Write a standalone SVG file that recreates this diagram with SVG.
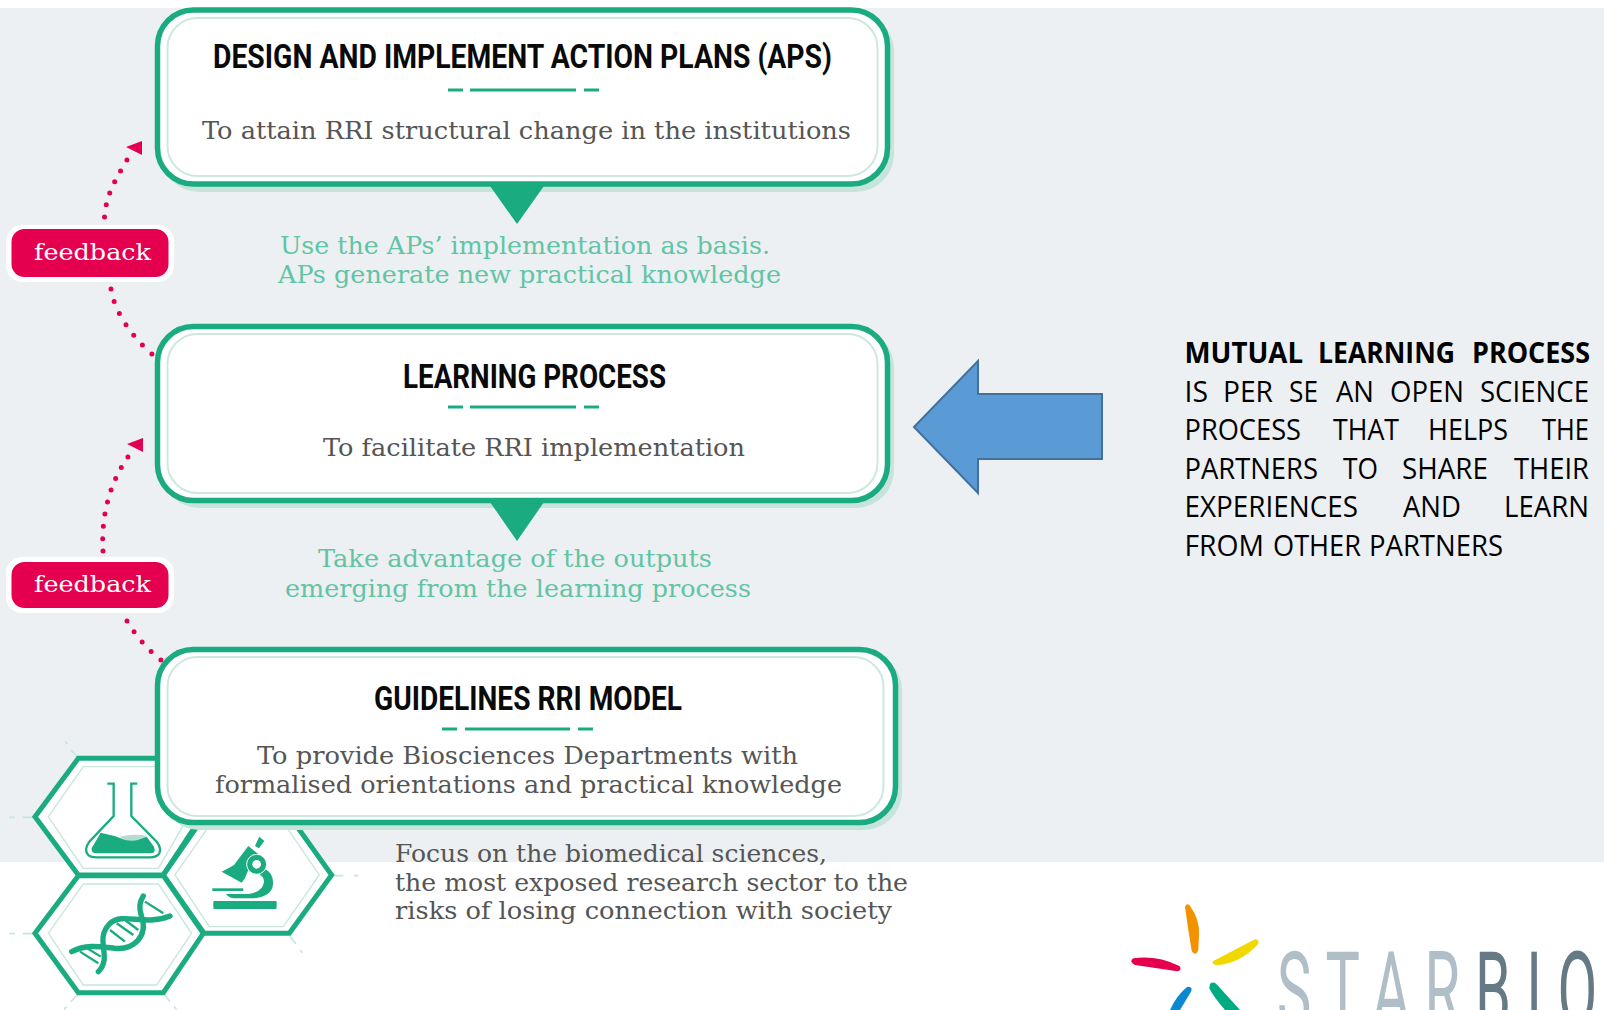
<svg xmlns="http://www.w3.org/2000/svg" width="1604" height="1010" viewBox="0 0 1604 1010">
<style>
.box{fill:#fff;stroke:#1aab80;stroke-width:5.5}
.shadow{fill:#c6e4da}
.inner{fill:none;stroke:#cfe8df;stroke-width:2}
.dash{stroke:#1aab80;stroke-width:3;fill:none}
.tip{fill:#1aab80}
.h{font-family:Roboto,"Liberation Sans",sans-serif;font-weight:700;font-size:34px;fill:#0a0a0a}
.s{font-family:"DejaVu Serif",serif;font-size:23.500px;fill:#555}
.g{font-family:"DejaVu Serif",serif;font-size:23.500px;fill:#62c4a4}
.pw{fill:#fff}
.pr{fill:#e4004f}
.f{font-family:"DejaVu Serif",serif;font-size:23px;fill:#fff}
.dot{fill:none;stroke:#e4004f;stroke-width:5;stroke-linecap:round;stroke-dasharray:0 1}
.r{font-family:"Open Sans","Liberation Sans",sans-serif;font-size:29px;fill:#000}
.rb{font-weight:700}
.hex{fill:#fff;stroke:#1aab80;stroke-width:15}
.hin{fill:none;stroke:#c8e6da;stroke-width:4}
.tick{fill:none;stroke:#c8e6da;stroke-width:5}
.ic{fill:#1aab80}
.il{fill:none;stroke:#1aab80}
</style>
<defs>
<marker id="ah" markerUnits="userSpaceOnUse" viewBox="0 0 16 20" refX="1" refY="19" markerWidth="16" markerHeight="20" orient="0"><polygon points="0,6 16,0 16,14" fill="#e4004f"/></marker>
</defs>
<rect x="0" y="8" width="1604" height="854" fill="#edf0f3"/>

<g id="hexagons" transform="translate(0,640) scale(0.3333)">
<path class="tick" d="M28,532H45M68,532H100M195,305L203,312M213,330L232,352M1003,707H1030M1062,707H1075M870,890L888,912M900,930L908,938M28,881H45M68,881H100M232,1065L212,1085M200,1100L192,1108M495,1065L510,1085M522,1100L530,1108"/>
<polygon class="hex" points="105,530 235,355 490,355 605,530 490,705 235,705"/>
<polygon class="hin" points="145,530 250,380 475,380 565,530 475,685 250,685"/>
<polygon class="hex" points="490,705 612,530 870,530 995,705 868,880 612,880"/>
<polygon class="hin" points="525,705 630,555 855,555 958,705 850,860 628,860"/>
<polygon class="hex" points="105,880 235,707 490,707 610,880 490,1058 235,1058"/>
<polygon class="hin" points="145,880 250,732 475,732 575,880 470,1035 250,1035"/>
<path class="il" stroke-width="7" d="M322,431H341V528L268,605Q250,630 265,645Q272,652 290,652H450Q470,652 478,640Q485,625 470,605L394,528V431H412"/>
<path class="ic" d="M275,625L302,578Q340,585 370,598Q405,605 440,590L462,620Q470,640 450,640H290Q272,640 275,625Z"/>
<path fill="#b6dccf" d="M358,590Q400,580 440,588Q410,608 375,600Z"/>
<rect class="ic" x="640" y="783" width="190" height="24" rx="4"/>
<rect class="ic" x="637" y="745" width="93" height="8"/>
<polygon class="ic" points="778,590 793,603 777,625 765,618"/>
<polygon class="ic" points="745,618 775,642 745,690 735,715 725,728 665,695 685,685 702,675"/>
<path class="ic" d="M790,685Q825,700 818,740Q810,770 760,775H700Q685,772 678,762H745Q790,755 792,725Q792,710 780,705Z"/>
<circle cx="770" cy="673" r="30" fill="#1aab80" stroke="#fff" stroke-width="3"/>
<circle cx="770" cy="673" r="13" fill="#fff"/>
<path class="il" stroke-width="7" d="M240,935L295,970M262,925L302,950M330,870L375,905M350,850L400,885M375,840L415,870M435,785L490,820"/>
<path class="il" stroke-width="16" stroke-linecap="round" d="M215,935C260,912 300,920 345,925C400,930 445,890 425,830C415,800 420,785 430,768"/>
<path class="il" stroke-width="16" stroke-linecap="round" d="M295,995C340,950 280,900 330,850C370,815 430,860 510,828"/>
</g>

<g id="connectors">
<path class="dot" pathLength="5.010" marker-end="url(#ah)" d="M104.500,217C106,195 115,180 127,160"/>
<path class="dot" pathLength="6.010" d="M111,289C114,310 130,335 152,354"/>
<path class="dot" pathLength="8.010" marker-end="url(#ah)" d="M103,551C101,520 108,485 128,457"/>
<path class="dot" pathLength="4.010" d="M127,621C135,635 148,650 161,660"/>
</g>

<g id="node-aps">
<rect class="shadow" x="161" y="13" width="733" height="179" rx="38"/>
<polygon class="tip" points="490,186 544,186 517,224"/>
<rect class="box" x="157.500" y="10" width="730" height="174" rx="36"/>
<rect class="inner" x="167.500" y="18" width="710" height="158" rx="30"/>
<text class="h" x="213" y="68" textLength="619" lengthAdjust="spacingAndGlyphs">DESIGN AND IMPLEMENT ACTION PLANS (APS)</text>
<path class="dash" d="M448,90H463M470,90H576M584,90H599"/>
<text class="s" x="202" y="139" textLength="649" lengthAdjust="spacingAndGlyphs">To attain RRI structural change in the institutions</text>
</g>
<g id="note-aps">
<text class="g" x="280" y="254" textLength="490" lengthAdjust="spacingAndGlyphs">Use the APs’ implementation as basis.</text>
<text class="g" x="278" y="283" textLength="503" lengthAdjust="spacingAndGlyphs">APs generate new practical knowledge</text>
</g>
<g id="feedback-1">
<rect class="pw" x="6" y="225" width="168" height="57" rx="16"/>
<rect class="pr" x="11.500" y="229" width="157" height="48" rx="13"/>
<text class="f" x="34" y="260" textLength="117" lengthAdjust="spacingAndGlyphs">feedback</text>
</g>

<g id="node-learning">
<rect class="shadow" x="161" y="329" width="733" height="179" rx="38"/>
<polygon class="tip" points="490,502 544,502 517,541"/>
<rect class="box" x="157.500" y="326.500" width="730" height="174" rx="36"/>
<rect class="inner" x="167.500" y="334" width="710" height="159" rx="30"/>
<text class="h" x="403" y="388" textLength="263" lengthAdjust="spacingAndGlyphs">LEARNING PROCESS</text>
<path class="dash" d="M448,407H463M470,407H576M584,407H599"/>
<text class="s" x="323" y="456" textLength="422" lengthAdjust="spacingAndGlyphs">To facilitate RRI implementation</text>
</g>
<g id="note-learning">
<text class="g" x="318" y="567" textLength="394" lengthAdjust="spacingAndGlyphs">Take advantage of the outputs</text>
<text class="g" x="285" y="597" textLength="466" lengthAdjust="spacingAndGlyphs">emerging from the learning process</text>
</g>
<g id="feedback-2">
<rect class="pw" x="6" y="557" width="168" height="56" rx="16"/>
<rect class="pr" x="11.500" y="562" width="157" height="46" rx="13"/>
<text class="f" x="34" y="592" textLength="117" lengthAdjust="spacingAndGlyphs">feedback</text>
</g>

<g id="node-guidelines">
<rect class="shadow" x="161" y="652" width="741" height="178" rx="38"/>
<rect class="box" x="157.500" y="649.500" width="738" height="173" rx="36"/>
<rect class="inner" x="167.500" y="657" width="716" height="159" rx="30"/>
<text class="h" x="374" y="709.500" textLength="308" lengthAdjust="spacingAndGlyphs">GUIDELINES RRI MODEL</text>
<path class="dash" d="M442,729H457M465,729H570M578,729H593"/>
<text class="s" x="257" y="764" textLength="541" lengthAdjust="spacingAndGlyphs">To provide Biosciences Departments with</text>
<text class="s" x="215" y="793" textLength="627" lengthAdjust="spacingAndGlyphs">formalised orientations and practical knowledge</text>
</g>
<g id="note-focus">
<text class="s" x="395" y="862" textLength="432" lengthAdjust="spacingAndGlyphs">Focus on the biomedical sciences,</text>
<text class="s" x="395" y="891" textLength="513" lengthAdjust="spacingAndGlyphs">the most exposed research sector to the</text>
<text class="s" x="395" y="919" textLength="497" lengthAdjust="spacingAndGlyphs">risks of losing connection with society</text>
</g>

<g id="big-arrow">
<polygon points="914,427 978,361 978,394 1102,394 1102,459 978,459 978,493" fill="#5b9bd5" stroke="#41719c" stroke-width="2"/>
</g>

<g id="mutual-text">
<text class="r rb" x="1184.500" y="363" textLength="118.500" lengthAdjust="spacingAndGlyphs">MUTUAL</text>
<text class="r rb" x="1318" y="363" textLength="137" lengthAdjust="spacingAndGlyphs">LEARNING</text>
<text class="r rb" x="1472" y="363" textLength="118" lengthAdjust="spacingAndGlyphs">PROCESS</text>
<text class="r" x="1184.500" y="402" textLength="23.500" lengthAdjust="spacingAndGlyphs">IS</text>
<text class="r" x="1223" y="402" textLength="50" lengthAdjust="spacingAndGlyphs">PER</text>
<text class="r" x="1289" y="402" textLength="29" lengthAdjust="spacingAndGlyphs">SE</text>
<text class="r" x="1336" y="402" textLength="38" lengthAdjust="spacingAndGlyphs">AN</text>
<text class="r" x="1390" y="402" textLength="74" lengthAdjust="spacingAndGlyphs">OPEN</text>
<text class="r" x="1480" y="402" textLength="109" lengthAdjust="spacingAndGlyphs">SCIENCE</text>
<text class="r" x="1184.500" y="440" textLength="116.500" lengthAdjust="spacingAndGlyphs">PROCESS</text>
<text class="r" x="1333" y="440" textLength="66" lengthAdjust="spacingAndGlyphs">THAT</text>
<text class="r" x="1428" y="440" textLength="80" lengthAdjust="spacingAndGlyphs">HELPS</text>
<text class="r" x="1542" y="440" textLength="47" lengthAdjust="spacingAndGlyphs">THE</text>
<text class="r" x="1184.500" y="479" textLength="133.500" lengthAdjust="spacingAndGlyphs">PARTNERS</text>
<text class="r" x="1343" y="479" textLength="35" lengthAdjust="spacingAndGlyphs">TO</text>
<text class="r" x="1402" y="479" textLength="86" lengthAdjust="spacingAndGlyphs">SHARE</text>
<text class="r" x="1514" y="479" textLength="75" lengthAdjust="spacingAndGlyphs">THEIR</text>
<text class="r" x="1184.500" y="517" textLength="173.500" lengthAdjust="spacingAndGlyphs">EXPERIENCES</text>
<text class="r" x="1403" y="517" textLength="58" lengthAdjust="spacingAndGlyphs">AND</text>
<text class="r" x="1504" y="517" textLength="85" lengthAdjust="spacingAndGlyphs">LEARN</text>
<text class="r" x="1184.500" y="556" textLength="79.500" lengthAdjust="spacingAndGlyphs">FROM</text>
<text class="r" x="1273" y="556" textLength="88" lengthAdjust="spacingAndGlyphs">OTHER</text>
<text class="r" x="1369" y="556" textLength="134" lengthAdjust="spacingAndGlyphs">PARTNERS</text>
</g>

<g id="logo">
<g transform="translate(1100,880) scale(0.3333)">
<path fill="#f39200" d="M255,80Q262,65 272,80Q300,120 297,165L295,210Q285,232 275,212L265,150Z"/>
<path fill="#f0d800" d="M340,243L465,178Q482,180 472,195Q420,250 350,256Q332,252 340,243Z"/>
<path fill="#e4004f" d="M100,235Q170,225 238,258Q248,270 232,274L105,255Q85,245 100,235Z"/>
<path fill="#0a88d0" d="M262,320Q280,320 273,335L240,390L210,390Q230,345 262,320Z"/>
<path fill="#00ab84" d="M330,312Q340,302 352,315L420,390L375,390Q340,350 328,325Z"/>
</g>
<text transform="scale(0.55,1)" y="1027" font-family="Roboto,sans-serif" font-size="105" font-weight="400"><tspan fill="#b0bec7" x="2322 2410 2495 2590">STAR</tspan><tspan fill="#667a85" x="2682 2775 2832">BIO</tspan></text>
</g>
</svg>
